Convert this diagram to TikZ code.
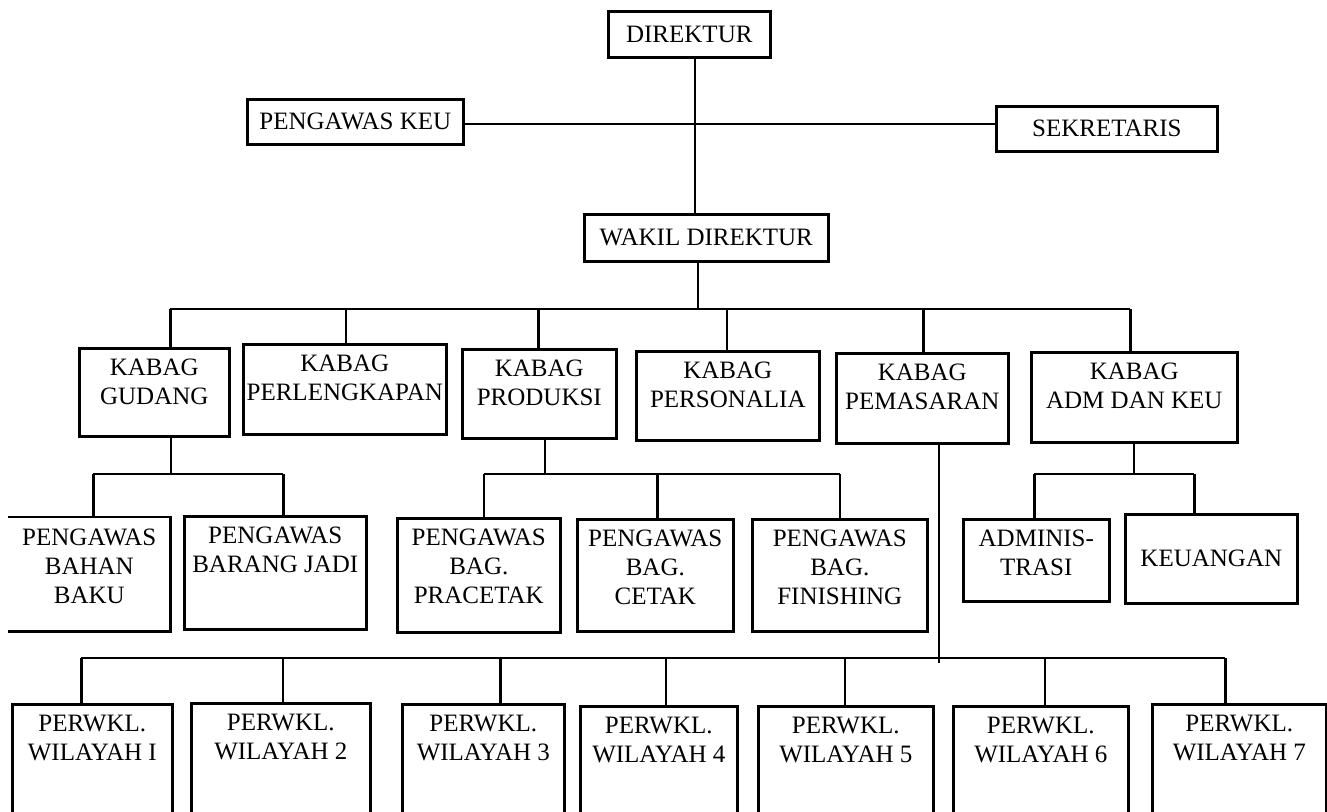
\documentclass[tikz,border=0pt]{standalone}
\usepackage{fontspec}
\setmainfont{Liberation Serif}
\usetikzlibrary{math}
\tikzset{
  box/.style={draw, line width=2.6pt, inner sep=0pt, anchor=north west},
  tag/.style={anchor=north, align=center, inner sep=0pt, yshift=-11pt},
}

\begin{document}
\begin{tikzpicture}[x=1pt, y=-1pt, line width=2.6pt, font=\fontsize{25}{29}\selectfont]
    \tikzmath{\busA = 309; \busB = 474; \busC = 658;}
    \clip (0,0) rectangle (1327,811);

    % top
    \node[box, minimum width=162pt, minimum height=46pt] (dir) at (607, 10) {DIREKTUR};
    \node[box, minimum width=216pt, minimum height=45pt] (keu) at (246, 98) {PENGAWAS KEU};
    \node[box, minimum width=221pt, minimum height=45pt] (sek) at (995, 105) {SEKRETARIS};
    \node[box, minimum width=244pt, minimum height=47pt] (wakil) at (583, 213) {WAKIL DIREKTUR};
    \coordinate (T) at (695, 124);
    \draw (dir.south -| T)--(wakil.north -| T);
    \draw (keu.east |- T)--(sek.west |- T);

    % kabag
    \node[box, minimum width=150pt, minimum height=88pt, label={[tag]north:{KABAG\\GUDANG}}] (gud) at (78, 347) {};
    \node[box, minimum width=203pt, minimum height=90pt, label={[tag]north:{KABAG\\PERLENGKAPAN}}] (perl) at (242, 343) {};
    \node[box, minimum width=154pt, minimum height=89pt, label={[tag]north:{KABAG\\PRODUKSI}}] (prod) at (461, 348) {};
    \node[box, minimum width=183pt, minimum height=89pt, label={[tag]north:{KABAG\\PERSONALIA}}] (pers) at (635, 350) {};
    \node[box, minimum width=172pt, minimum height=90pt, label={[tag]north:{KABAG\\PEMASARAN}}] (pem) at (835, 352) {};
    \node[box, minimum width=206pt, minimum height=90pt, label={[tag]north:{KABAG\\ADM DAN KEU}}] (adm) at (1030, 351) {};
    \coordinate (W) at (698, \busA);
    \draw (wakil.south -| W)--(W);
    \foreach \n/\s in {gud/16, perl/1, prod/-1, pers/-1, pem/1, adm/-4} {
        \path (\n.north) ++(\s, 0) coordinate (d\n);
        \draw (d\n)--(d\n |- W);
    }
    \draw (dgud |- W)--(dadm |- W);

    % pengawas
    \node[minimum width=160pt, minimum height=112pt, inner sep=0pt, anchor=north west, label={[tag]north:{PENGAWAS\\BAHAN\\BAKU}}] (bahan) at (8, 517) {};
    \draw (bahan.north west)--(bahan.north east)--(bahan.south east)--(bahan.south west);
    \node[box, minimum width=182pt, minimum height=113pt, label={[tag]north:{PENGAWAS\\BARANG JADI}}] (barang) at (183, 515) {};
    \node[box, minimum width=163pt, minimum height=114pt, label={[tag]north:{PENGAWAS\\BAG.\\PRACETAK}}] (prac) at (396, 517) {};
    \node[box, minimum width=156pt, minimum height=112pt, label={[tag]north:{PENGAWAS\\BAG.\\CETAK}}] (cet) at (576, 518) {};
    \node[box, minimum width=175pt, minimum height=112pt, label={[tag]north:{PENGAWAS\\BAG.\\FINISHING}}] (fin) at (751, 518) {};
    \node[box, minimum width=146pt, minimum height=82pt, label={[tag]north:{ADMINIS-\\TRASI}}] (admi) at (962, 518) {};
    \node[box, minimum width=172pt, minimum height=89pt] (uang) at (1124, 513) {KEUANGAN};

    \coordinate (G) at (171, \busB);
    \coordinate (P) at (545, \busB);
    \coordinate (A) at (1134, \busB);
    \draw (gud.south -| G)--(G);
    \draw (prod.south -| P)--(P);
    \draw (adm.south -| A)--(A);
    \foreach \n/\s/\b in {bahan/4/G, barang/8/G, prac/5/P, cet/2/P, fin/0/P, admi/-2/A, uang/-17/A} {
        \path (\n.north) ++(\s, 0) coordinate (d\n);
        \draw (d\n)--(d\n |- \b);
    }
    \draw (dbahan |- G)--(dbarang |- G);
    \draw (dprac |- P)--(dfin |- P);
    \draw (dadmi |- A)--(duang |- A);

    % perwakilan
    \node[box, minimum width=160pt, minimum height=130pt, label={[tag]north:{PERWKL.\\WILAYAH I}}] (w1) at (11, 703) {};
    \node[box, minimum width=179pt, minimum height=130pt, label={[tag]north:{PERWKL.\\WILAYAH 2}}] (w2) at (190, 702) {};
    \node[box, minimum width=162pt, minimum height=130pt, label={[tag]north:{PERWKL.\\WILAYAH 3}}] (w3) at (401, 703) {};
    \node[box, minimum width=157pt, minimum height=130pt, label={[tag]north:{PERWKL.\\WILAYAH 4}}] (w4) at (579, 705) {};
    \node[box, minimum width=175pt, minimum height=130pt, label={[tag]north:{PERWKL.\\WILAYAH 5}}] (w5) at (757, 705) {};
    \node[box, minimum width=175pt, minimum height=130pt, label={[tag]north:{PERWKL.\\WILAYAH 6}}] (w6) at (952, 705) {};
    \node[box, minimum width=174pt, minimum height=130pt, label={[tag]north:{PERWKL.\\WILAYAH 7}}] (w7) at (1151, 703) {};
    \coordinate (M) at (939, \busC);
    \draw (pem.south -| M)--([yshift=-5pt]M);
    \foreach \n/\s in {w1/-11, w2/2, w3/17, w4/7, w5/-1, w6/4, w7/-14} {
        \path (\n.north) ++(\s, 0) coordinate (d\n);
        \draw (d\n)--(d\n |- M);
    }
    \draw (dw1 |- M)--(dw7 |- M);
\end{tikzpicture}
\end{document}
